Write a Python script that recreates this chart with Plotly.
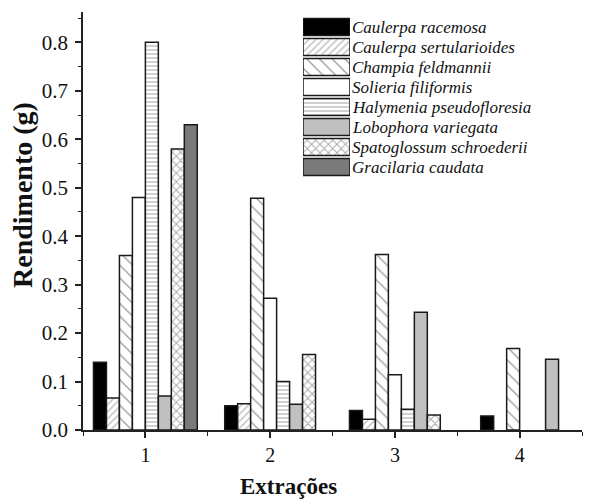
import plotly.graph_objects as go

# ---------------- data ----------------
extractions = [1, 2, 3, 4]
species = [
    "Caulerpa racemosa",
    "Caulerpa sertularioides",
    "Champia feldmannii",
    "Solieria filiformis",
    "Halymenia pseudofloresia",
    "Lobophora variegata",
    "Spatoglossum schroederii",
    "Gracilaria caudata",
]
caulerpa_racemosa = [0.14, 0.05, 0.04, 0.029]
caulerpa_sertularioides = [0.066, 0.054, 0.022, None]
champia_feldmannii = [0.36, 0.478, 0.362, 0.168]
solieria_filiformis = [0.48, 0.272, 0.114, None]
halymenia_pseudofloresia = [0.80, 0.10, 0.043, None]
lobophora_variegata = [0.07, 0.053, 0.243, 0.146]
spatoglossum_schroederii = [0.58, 0.156, 0.031, None]
gracilaria_caudata = [0.63, None, None, None]
values = [
    caulerpa_racemosa, caulerpa_sertularioides, champia_feldmannii,
    solieria_filiformis, halymenia_pseudofloresia, lobophora_variegata,
    spatoglossum_schroederii, gracilaria_caudata,
]
y_ticks = [0.0, 0.1, 0.2, 0.3, 0.4, 0.5, 0.6, 0.7, 0.8]

# ---------------- styles ----------------
styles = [
    dict(color="black", pattern=None),
    dict(color="white", pattern=dict(shape="/", size=5, solidity=0.3, fgcolor="#888888", bgcolor="white")),
    dict(color="white", pattern=dict(shape="\\", size=9, solidity=0.14, fgcolor="#333333", bgcolor="white")),
    dict(color="white", pattern=None),
    dict(color="white", pattern=dict(shape="-", size=4, solidity=0.4, fgcolor="#8a8a8a", bgcolor="white")),
    dict(color="#c0c0c0", pattern=None),
    dict(color="white", pattern=dict(shape="x", size=6, solidity=0.3, fgcolor="#555555", bgcolor="white")),
    dict(color="#7a7a7a", pattern=None),
]
BAR_W = 0.104
SERIF = "Liberation Serif, Times New Roman, serif"

# number of slots per extraction (trailing missing series dropped, like Origin)
slots = []
for g in range(len(extractions)):
    last = max(i for i, v in enumerate(values) if v[g] is not None)
    slots.append(last + 1)

fig = go.Figure()
for i, (name, vals, st) in enumerate(zip(species, values, styles)):
    xs, ys = [], []
    for g, x in enumerate(extractions):
        if vals[g] is None:
            continue
        xs.append(x + (i - (slots[g] - 1) / 2) * BAR_W)
        ys.append(vals[g])
    marker = dict(color=st["color"], line=dict(color="#1a1a1a", width=1.5))
    if st["pattern"]:
        marker["pattern"] = st["pattern"]
    fig.add_trace(go.Bar(x=xs, y=ys, width=BAR_W, name=name, marker=marker,
                         showlegend=False, xaxis="x", yaxis="y"))

# legend built as an inset of swatches + labels
for i, (name, st) in enumerate(zip(species, styles)):
    marker = dict(color=st["color"], line=dict(color="#1a1a1a", width=1.5))
    if st["pattern"]:
        marker["pattern"] = st["pattern"]
    fig.add_trace(go.Bar(x=[1], y=[i], orientation="h", width=0.86, marker=marker,
                         showlegend=False, hoverinfo="skip", name=name,
                         xaxis="x2", yaxis="y2"))
    fig.add_annotation(x=1, y=i, xref="x2", yref="y2", text=name, showarrow=False,
                       xanchor="left", yanchor="middle", xshift=0,
                       font=dict(family=SERIF, size=17, color="#111111", style="italic"))

# page body has an 8px default margin: lay out in a 590x493 figure,
# positions below are given in the reference's window pixels
OFF = 8
W, H = 598 - OFF, 501 - OFF
L, R, T, B = 83 - OFF, 16, 12 - OFF, 71
pw, ph = W - L - R, H - T - B

def px_x(p):
    return (p - OFF - L) / pw

def px_y(p):
    return (H - B - (p - OFF)) / ph

fig.update_layout(
    width=W, height=H,
    margin=dict(l=L, r=R, t=T, b=B),
    paper_bgcolor="white", plot_bgcolor="white",
    barmode="overlay",
    showlegend=False,
    font=dict(family=SERIF, color="#111111"),
    xaxis=dict(
        range=[0.5, 4.5], tickvals=extractions, ticktext=[str(x) for x in extractions],
        ticks="outside", ticklen=6, tickwidth=1.5, tickcolor="#222222",
        showline=True, linecolor="#222222", linewidth=1.5, showgrid=False, zeroline=False,
        tickfont=dict(family=SERIF, size=20, color="#111111"),
        minor=dict(dtick=0.5, tick0=0.5, ticks="outside", ticklen=4, tickwidth=1.2, tickcolor="#222222"),
    ),
    yaxis=dict(
        range=[0, 0.8626], tickvals=y_ticks, tickformat=".1f",
        ticks="outside", ticklen=6, tickwidth=1.5, tickcolor="#222222",
        showline=True, linecolor="#222222", linewidth=1.5, showgrid=False, zeroline=False,
        tickfont=dict(family=SERIF, size=21, color="#111111"), ticklabelstandoff=3,
        minor=dict(dtick=0.05, tick0=0, ticks="outside", ticklen=3, tickwidth=1.2, tickcolor="#222222"),
    ),
    xaxis2=dict(domain=[px_x(303), px_x(350)], range=[0, 1], anchor="y2",
                visible=False, fixedrange=True),
    yaxis2=dict(domain=[px_y(177), px_y(17)], range=[7.5, -0.5], anchor="x2",
                visible=False, fixedrange=True),
)

fig.add_annotation(text="<b>Extrações</b>", xref="paper", yref="paper",
                   x=px_x(288), y=px_y(501), xanchor="center", yanchor="bottom",
                   showarrow=False, font=dict(family=SERIF, size=23, color="#111111"))
fig.add_annotation(text="<b>Rendimento (g)</b>", xref="paper", yref="paper",
                   x=px_x(22), y=px_y(195), xanchor="center", yanchor="middle",
                   textangle=-90, showarrow=False,
                   font=dict(family=SERIF, size=28, color="#111111"))

fig.write_html("out.html")
